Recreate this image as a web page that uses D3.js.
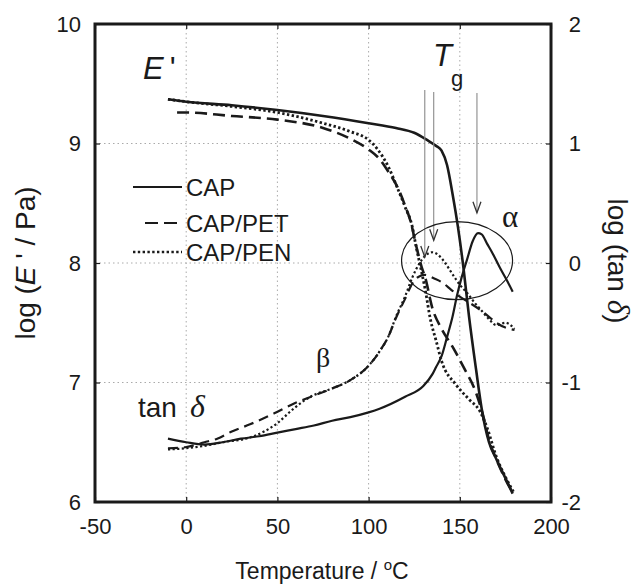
<!DOCTYPE html>
<html>
<head>
<meta charset="utf-8">
<script src="https://cdn.jsdelivr.net/npm/d3@7/dist/d3.min.js"></script>
<style>
  html, body { margin: 0; padding: 0; background: #fff; }
  svg { display: block; }
  text { font-family: Arial, "Liberation Sans", sans-serif; fill: #1a1a1a; }
  .serif { font-family: "Liberation Serif", "Times New Roman", "DejaVu Serif", serif; }
</style>
</head>
<body>
<svg id="chart" width="637" height="584"></svg>
<script>
// Storage modulus E' (log Pa) vs temperature (°C)
const eCAP = [[-10,9.37],[0,9.35],[25,9.32],[50,9.28],[75,9.23],[100,9.17],[115,9.13],[125,9.09],[132,9.03],[137,8.98],[140,8.94],[143,8.82],[146,8.58],[149,8.30],[152,7.96],[155,7.56],[159,7.10],[162,6.78],[166,6.50],[170,6.36],[175,6.20],[179,6.07]];
const ePET = [[-5,9.26],[0,9.26],[25,9.23],[50,9.20],[75,9.13],[90,9.04],[100,8.95],[106,8.87],[111,8.76],[116,8.63],[120,8.48],[123,8.35],[126,8.15],[129,7.97],[131,7.88],[135,7.62],[140,7.45],[146,7.30],[152,7.13],[159,6.91],[163,6.71],[166,6.52],[170,6.36],[175,6.19],[179,6.08]];
const ePEN = [[-10,9.37],[0,9.35],[25,9.31],[50,9.26],[75,9.17],[90,9.10],[100,9.03],[105,8.95],[111,8.80],[116,8.62],[120,8.47],[124,8.30],[126,8.14],[128,8.00],[131,7.78],[134,7.52],[137,7.35],[140,7.18],[148,6.98],[155,6.86],[161,6.76],[165,6.62],[170,6.38],[175,6.21],[180,6.07]];

// Loss factor log(tan δ) vs temperature (°C)
const tCAP = [[-10,-1.47],[0,-1.50],[10,-1.52],[20,-1.50],[30,-1.47],[40,-1.45],[50,-1.42],[60,-1.39],[70,-1.36],[80,-1.32],[90,-1.29],[100,-1.25],[106,-1.22],[120,-1.12],[130,-1.03],[135,-0.93],[137,-0.87],[140,-0.78],[143,-0.62],[146,-0.45],[148.5,-0.27],[151,-0.12],[154,0.03],[157,0.18],[160,0.25],[162,0.24],[165,0.16],[168,0.08],[172,-0.04],[176,-0.15],[179,-0.24]];
const tPET = [[-10,-1.55],[0,-1.54],[10,-1.50],[17,-1.47],[25,-1.41],[35,-1.35],[48,-1.26],[60,-1.17],[70,-1.11],[80,-1.05],[90,-0.98],[100,-0.86],[106,-0.74],[111,-0.61],[115,-0.46],[120,-0.30],[124,-0.17],[128,-0.11],[131,-0.10],[136,-0.13],[140,-0.16],[145,-0.22],[149,-0.27],[155,-0.33],[161,-0.39],[166,-0.45],[170,-0.50],[175,-0.54],[180,-0.56]];
const tPEN = [[-10,-1.56],[0,-1.55],[10,-1.53],[20,-1.50],[35,-1.46],[50,-1.34],[58,-1.23],[68,-1.12],[80,-1.05],[90,-0.98],[100,-0.86],[106,-0.74],[111,-0.61],[115,-0.45],[120,-0.28],[124,-0.12],[128,0.00],[131,0.06],[135,0.09],[138,0.07],[142,0.00],[145,-0.07],[148,-0.14],[151,-0.20],[154,-0.25],[158,-0.33],[162,-0.40],[166,-0.47],[170,-0.52],[175,-0.50],[180,-0.55]];

// Tick values
const xTicks = [-50, 0, 50, 100, 150, 200];
const yLeftTicks = [6, 7, 8, 9, 10];
const yRightTicks = [-2, -1, 0, 1, 2];

// Tg arrows: temperature, log(tan δ) at the arrow tip
const tgArrows = [[130.8, 0.05], [135.7, 0.19], [159.4, 0.42]];

const legendItems = ["CAP", "CAP/PET", "CAP/PEN"];

const svg = d3.select("#chart");
const pLeft = 95, pRight = 551, pTop = 24, pBottom = 502;

const x = d3.scaleLinear().domain([-50, 200]).range([pLeft, pRight]);
const yL = d3.scaleLinear().domain([6, 10]).range([pBottom, pTop]);
const yR = d3.scaleLinear().domain([-2, 2]).range([pBottom, pTop]);

const ink = "#1a1a1a";
const plain = d => String(d);   // hyphen-minus, as printed on the axes

// Grid
const grid = svg.append("g");
grid.selectAll("line.gx").data(xTicks.slice(1, -1)).join("line")
  .attr("x1", d => x(d)).attr("x2", d => x(d)).attr("y1", pTop).attr("y2", pBottom)
  .attr("stroke", "#aaa").attr("stroke-width", 1).attr("stroke-dasharray", "1.5,3");
grid.selectAll("line.gy").data(yLeftTicks.slice(1, -1)).join("line")
  .attr("x1", pLeft).attr("x2", pRight).attr("y1", d => yL(d)).attr("y2", d => yL(d))
  .attr("stroke", "#aaa").attr("stroke-width", 1).attr("stroke-dasharray", "1.5,3");

// Axes with inward ticks
const axB = svg.append("g").attr("transform", `translate(0,${pBottom})`)
  .call(d3.axisBottom(x).tickValues(xTicks).tickSize(-5).tickPadding(16).tickFormat(plain));
const axT = svg.append("g").attr("transform", `translate(0,${pTop})`)
  .call(d3.axisTop(x).tickValues(xTicks).tickSize(-5).tickFormat(""));
const axL = svg.append("g").attr("transform", `translate(${pLeft},0)`)
  .call(d3.axisLeft(yL).tickValues(yLeftTicks).tickSize(-5).tickPadding(14).tickFormat(plain));
const axR = svg.append("g").attr("transform", `translate(${pRight},0)`)
  .call(d3.axisRight(yR).tickValues(yRightTicks).tickSize(-5).tickPadding(14).tickFormat(plain));

[axB, axT, axL, axR].forEach(a => {
  a.select(".domain").remove();
  a.selectAll(".tick line").attr("stroke", ink).attr("stroke-width", 1.2);
  a.selectAll(".tick text").attr("font-size", 22).attr("fill", ink)
    .style("font-family", 'Arial, "Liberation Sans", sans-serif');
});
axR.selectAll(".tick text").attr("text-anchor", "end").attr("x", 30);

// Frame
svg.append("rect").attr("x", pLeft).attr("y", pTop).attr("width", pRight - pLeft).attr("height", pBottom - pTop)
  .attr("fill", "none").attr("stroke", ink).attr("stroke-width", 3);

// Curves
const lineE = d3.line().x(d => x(d[0])).y(d => yL(d[1])).curve(d3.curveMonotoneX);
const lineT = d3.line().x(d => x(d[0])).y(d => yR(d[1])).curve(d3.curveMonotoneX);

const curves = svg.append("g").attr("fill", "none").attr("stroke", ink);
curves.append("path").attr("d", lineE(eCAP)).attr("stroke-width", 2.6);
curves.append("path").attr("d", lineE(ePET)).attr("stroke-width", 2.6).attr("stroke-dasharray", "12,6");
curves.append("path").attr("d", lineE(ePEN)).attr("stroke-width", 2.8).attr("stroke-dasharray", "2.4,2.4");
curves.append("path").attr("d", lineT(tCAP)).attr("stroke-width", 2.2);
curves.append("path").attr("d", lineT(tPET)).attr("stroke-width", 2.2).attr("stroke-dasharray", "10,6");
curves.append("path").attr("d", lineT(tPEN)).attr("stroke-width", 2.2).attr("stroke-dasharray", "2.2,2.4");

// Tg arrows
const arrows = svg.append("g").attr("fill", "none");
const arrowTop = [90, 92, 93];
tgArrows.forEach((a, i) => {
  const ax = x(a[0]), ay = yR(a[1]);
  arrows.append("line").attr("x1", ax).attr("x2", ax).attr("y1", arrowTop[i]).attr("y2", ay)
    .attr("stroke", "#8a8a8a").attr("stroke-width", 1.1);
  arrows.append("path").attr("d", `M${ax - 4},${ay - 11} L${ax},${ay} L${ax + 4},${ay - 11}`)
    .attr("stroke", "#333").attr("stroke-width", 1.3);
});

// Ellipse around the α relaxation peaks
svg.append("ellipse").attr("cx", x(148.5)).attr("cy", yR(0.02)).attr("rx", 55.5).attr("ry", 39)
  .attr("fill", "none").attr("stroke", ink).attr("stroke-width", 1.2);

// Legend
const legend = svg.append("g");
const legY = [187, 223, 252];
const legStyles = [null, "13,6", "2.4,2.4"];
legendItems.forEach((name, i) => {
  legend.append("line").attr("x1", i === 1 ? 145 : 133).attr("x2", 182).attr("y1", legY[i]).attr("y2", legY[i])
    .attr("stroke", ink).attr("stroke-width", i === 2 ? 2.6 : 2.2)
    .attr("stroke-dasharray", legStyles[i]);
  legend.append("text").attr("x", 186).attr("y", legY[i] + 9).attr("font-size", 24).text(name);
});

// Annotations
const E = svg.append("text").attr("x", 143).attr("y", 79).attr("font-size", 31);
E.append("tspan").attr("font-style", "italic").text("E");
E.append("tspan").attr("dx", 6).text("'");

const Tg = svg.append("text").attr("x", 433).attr("y", 66).attr("font-size", 31);
Tg.append("tspan").attr("font-style", "italic").text("T");
Tg.append("tspan").attr("dx", -1).attr("dy", 20).attr("font-size", 22).text("g");

svg.append("text").attr("class", "serif").attr("x", 316).attr("y", 367).attr("font-size", 28).text("β");
svg.append("text").attr("class", "serif").attr("x", 502).attr("y", 227).attr("font-size", 31).text("α");

const tanLabel = svg.append("text").attr("x", 138).attr("y", 417).attr("font-size", 28);
tanLabel.append("tspan").text("tan");
tanLabel.append("tspan").attr("class", "serif").attr("font-style", "italic").attr("font-size", 32).attr("dx", 13).text("δ");

// Axis titles
svg.append("text").attr("x", 322).attr("y", 579).attr("text-anchor", "middle").attr("font-size", 23)
  .html('Temperature / <tspan dy="-9" font-size="15">o</tspan><tspan dy="9">C</tspan>');

const yt = svg.append("text").attr("transform", "translate(35,263) rotate(-90)")
  .attr("text-anchor", "middle").attr("font-size", 28);
yt.append("tspan").text("log (");
yt.append("tspan").attr("font-style", "italic").text("E");
yt.append("tspan").text(" ' / Pa)");

const yr = svg.append("text").attr("transform", "translate(608,261) rotate(90)")
  .attr("text-anchor", "middle").attr("font-size", 28);
yr.append("tspan").text("log (tan ");
yr.append("tspan").attr("class", "serif").attr("font-style", "italic").attr("font-size", 31).text("δ");
yr.append("tspan").text(")");
</script>
</body>
</html>
